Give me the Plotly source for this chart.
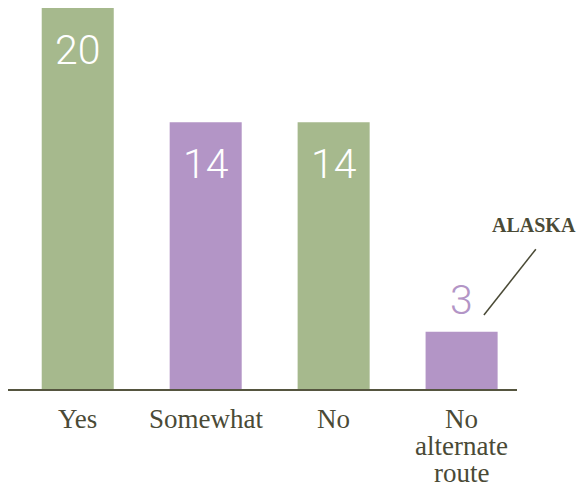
import plotly.graph_objects as go

categories = ["Yes", "Somewhat", "No", "No alternate route"]
tick_label_lines = [["Yes"], ["Somewhat"], ["No"], ["No", "alternate", "route"]]
values = [20, 14, 14, 3]
bar_colors = ["#a6b98d", "#b395c6", "#a6b98d", "#b395c6"]

TEXT_DARK = "#4a4a36"
SERIF = "Liberation Serif, Times New Roman, serif"
SANS_LIGHT = "Roboto, Lato, sans-serif"

fig = go.Figure(
    go.Bar(
        x=categories,
        y=values,
        marker=dict(color=bar_colors, line=dict(width=0)),
        hoverinfo="skip",
    )
)

# value labels
for cat, v, c in zip(categories, values, bar_colors):
    inside = v >= 5
    fig.add_annotation(
        x=cat, y=v, xref="x", yref="y",
        text=str(v), showarrow=False,
        xanchor="center",
        yanchor="top" if inside else "bottom",
        yshift=-16 if inside else 6,
        font=dict(family=SANS_LIGHT, size=41, color="white" if inside else c, weight=300),
    )

# category labels (tight line spacing like the reference)
for cat, lines in zip(categories, tick_label_lines):
    for i, line in enumerate(lines):
        fig.add_annotation(
            x=cat, y=0, xref="x", yref="y",
            text=line, showarrow=False,
            xanchor="center", yanchor="top", yshift=-13 - 27 * i,
            font=dict(family=SERIF, size=27, color=TEXT_DARK),
        )

# ALASKA callout
fig.add_annotation(
    x=1.033, y=0.430, xref="paper", yref="paper",
    text="<b>ALASKA</b>", showarrow=False,
    xanchor="center", yanchor="middle",
    font=dict(family=SERIF, size=20, color=TEXT_DARK),
)
fig.add_shape(
    type="line", xref="paper", yref="paper",
    x0=0.935, y0=0.194, x1=1.037, y1=0.367,
    line=dict(color=TEXT_DARK, width=1.5),
)

fig.update_layout(
    width=584, height=493,
    margin=dict(l=0, r=75, t=0, b=112, autoexpand=False),
    plot_bgcolor="white", paper_bgcolor="white",
    bargap=0.437,
    showlegend=False,
    xaxis=dict(
        type="category",
        range=[-0.545, 3.433],
        showticklabels=False, automargin=False,
        showline=True, linecolor="#55553f", linewidth=2,
        ticks="", showgrid=False, zeroline=False,
    ),
    yaxis=dict(range=[0, 20], visible=False, showgrid=False, zeroline=False, automargin=False),
)

fig.write_html("out.html")
